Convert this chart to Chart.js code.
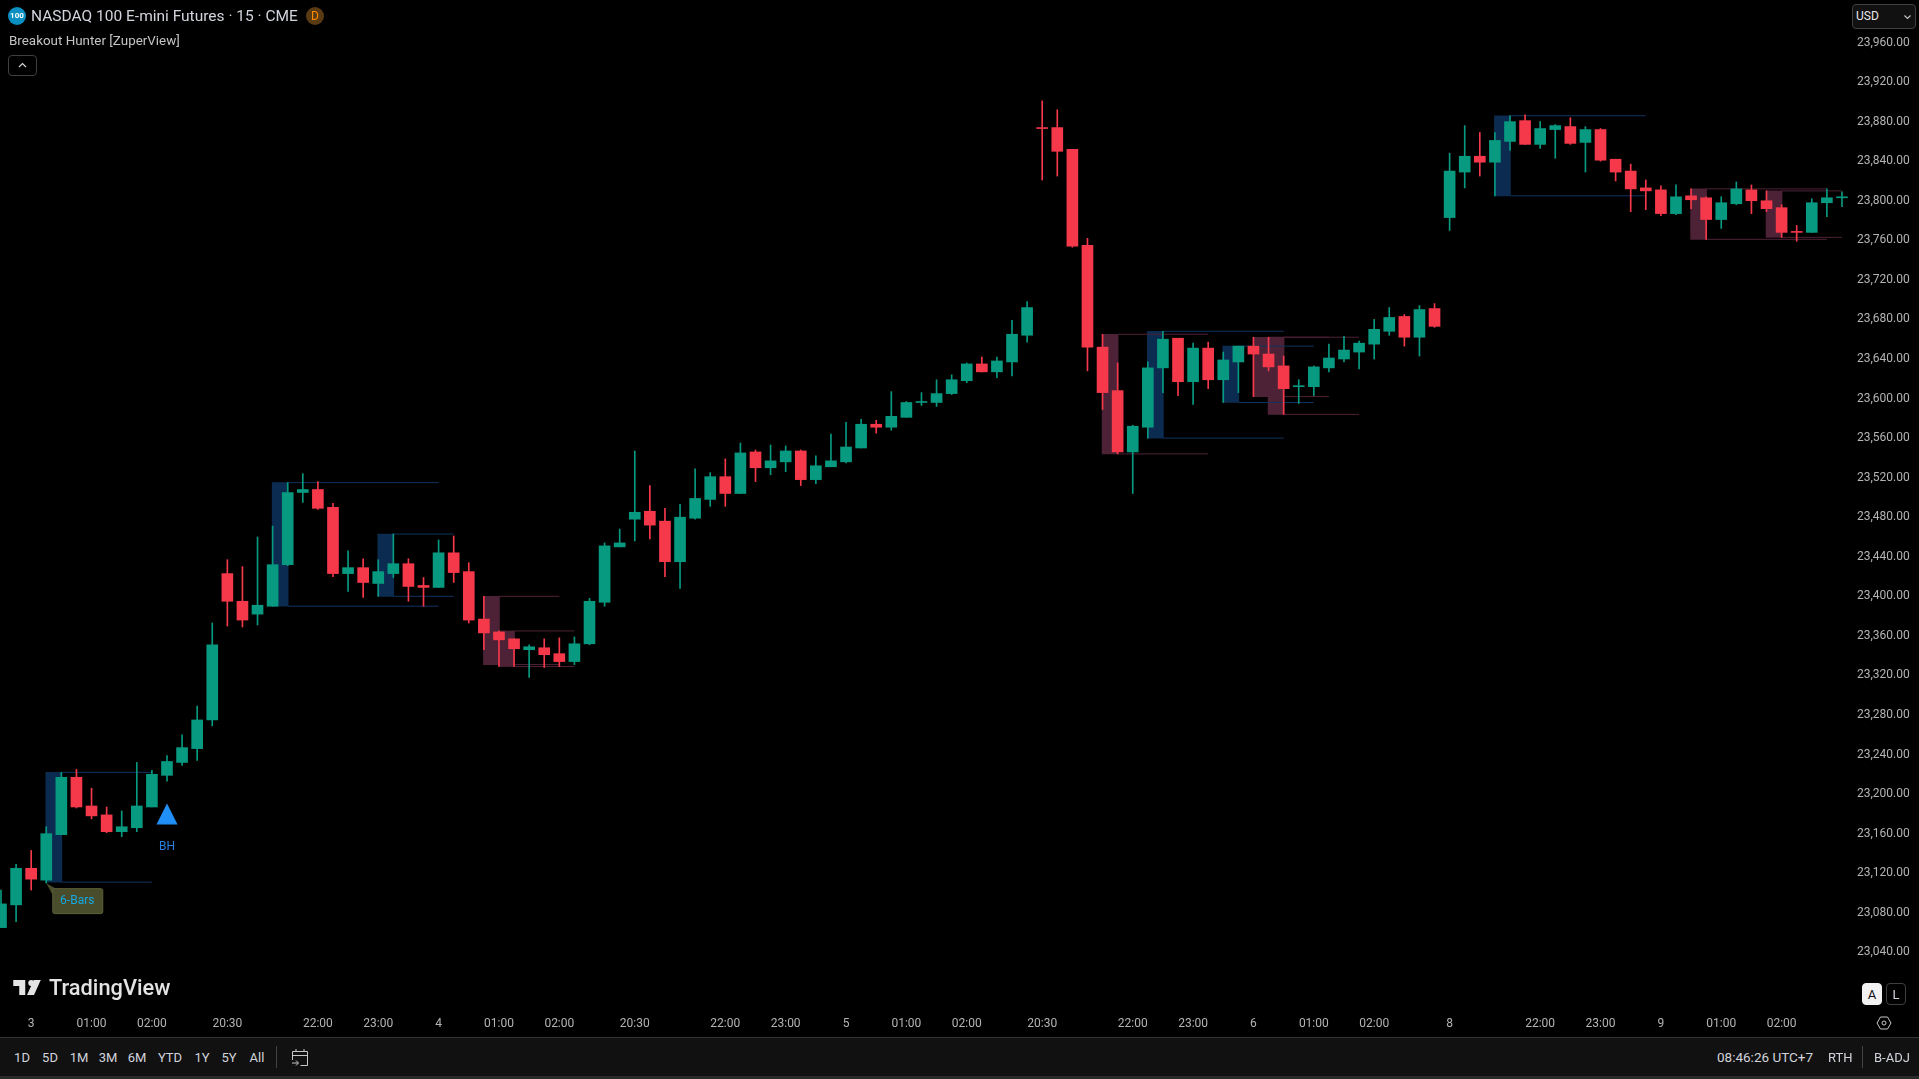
<!DOCTYPE html>
<html>
<head>
<meta charset="utf-8">
<title>NASDAQ 100 E-mini Futures</title>
<script src="https://cdn.jsdelivr.net/npm/chart.js@4"></script>
<style>
html,body{margin:0;padding:0;background:#000;overflow:hidden;width:1919px;height:1079px;font-family:Roboto,"Liberation Sans",sans-serif;}
#chart{position:absolute;left:0;top:0;}
.t{position:absolute;white-space:nowrap;line-height:1;}
.c{transform:translateX(-50%);}
.btn{position:absolute;box-sizing:border-box;border:1px solid #3f3f3f;border-radius:4px;}
#bar{position:absolute;left:0;top:1037px;width:1919px;height:39px;background:#111;border-top:1px solid #333;box-sizing:border-box;}
#strip{position:absolute;left:0;top:1076px;width:1919px;height:3px;background:#2a2a2a;}
.tool{color:#d1d4dc;font-size:13px;}
.sep{position:absolute;width:1px;background:#434343;}
</style>
</head>
<body>
<canvas id="chart" width="1919" height="1037"></canvas>

<!-- header -->
<div class="t c" style="left:17px;top:7px;width:18px;height:18px;border-radius:50%;background:#0b8fc2;color:#fff;font-size:8px;font-weight:700;line-height:18px;text-align:center;">100</div>
<div class="t" style="left:31px;top:9px;color:#d1d4dc;font-size:15.500px;">NASDAQ 100 E-mini Futures · 15 · CME</div>
<div class="t c" style="left:315px;top:7px;width:18px;height:18px;border-radius:50%;background:#5a3a12;color:#ff8c00;font-size:12px;line-height:18px;text-align:center;">D</div>
<div class="t" style="left:9px;top:34px;color:#c4c4c4;font-size:13.400px;">Breakout Hunter [ZuperView]</div>
<div class="btn" style="left:8px;top:55px;width:29px;height:21px;">
  <svg width="27" height="19" style="position:absolute;left:0;top:0"><path d="M10 11l3.5-3.5L17 11" fill="none" stroke="#d8d8d8" stroke-width="1.2"/></svg>
</div>

<!-- currency box -->
<div class="btn" style="left:1852px;top:4px;width:64px;height:25px;background:#111;border-radius:4px;"></div>
<div class="t" style="left:1856px;top:10px;color:#e8e8e8;font-size:12px;">USD</div>
<svg width="10" height="8" style="position:absolute;left:1903px;top:14px"><path d="M1.5 1.5L4.5 4.5L7.5 1.5" fill="none" stroke="#c8c8c8" stroke-width="1.1"/></svg>

<!-- watermark -->
<svg viewBox="2 6 27.5 15" width="30" height="15" style="position:absolute;left:12px;top:980px">
  <path d="M14 6H2v6h6v9h6V6z" fill="#e4e4e4"/><circle cx="20" cy="9" r="3" fill="#e4e4e4"/><path d="M29.5 6h-7l-6.75 15h7L29.5 6z" fill="#e4e4e4"/>
</svg>
<div class="t" style="left:49px;top:977px;color:#e4e4e4;font-size:21.800px;font-weight:500;">TradingView</div>

<!-- A / L buttons and settings -->
<div class="btn" style="left:1862px;top:983px;width:20px;height:22px;background:#f2f2f2;border-color:#f2f2f2;"></div>
<div class="t c" style="left:1872px;top:988px;color:#111;font-size:13px;">A</div>
<div class="btn" style="left:1886px;top:983px;width:20px;height:22px;"></div>
<div class="t c" style="left:1896px;top:988px;color:#d1d4dc;font-size:13px;">L</div>
<svg width="16" height="14" style="position:absolute;left:1876px;top:1016px"><path d="M4.5 1h7L15 7l-3.5 6h-7L1 7z" fill="none" stroke="#c8c8c8" stroke-width="1"/><circle cx="8" cy="7" r="2" fill="none" stroke="#c8c8c8" stroke-width="1"/></svg>

<!-- bottom toolbar -->
<div id="bar"></div>
<div id="strip"></div>
<div class="sep" style="left:276px;top:1046px;height:22px;"></div>
<svg width="18" height="20" style="position:absolute;left:291px;top:1047px"><g fill="none" stroke="#c8c8c8" stroke-width="1"><path d="M1.5 13V4.5h15v14h-7M1.5 8.5h15M5 2v3M13 2v3"/><path d="M1 16h6M5 13.5L7.5 16L5 18.500"/></g></svg>
<div class="t" style="left:1717px;top:1051px;color:#d1d4dc;font-size:13.500px;">08:46:26 UTC+7</div>
<div class="t" style="left:1828px;top:1051px;color:#d1d4dc;font-size:13px;">RTH</div>
<div class="sep" style="left:1862px;top:1046px;height:22px;"></div>
<div class="t" style="left:1874px;top:1051px;color:#d1d4dc;font-size:13px;">B-ADJ</div>

<script>
// NQ 15m candles
const opens = [23065,23088,23125,23113,23159,23217,23188,23179,23162,23166,
  23187,23219,23232,23246,23275,23423,23395,23382,23390,23432,
  23505,23508,23490,23423,23429,23413,23423,23433,23411,23409,
  23444,23425,23377,23364,23357,23346,23348,23342,23334,23352,
  23394,23450,23478,23486,23476,23435,23479,23498,23521,23504,
  23546,23530,23536,23547,23518,23531,23536,23550,23574,23571,
  23581,23596,23596,23605,23618,23635,23627,23637,23664,23874,
  23874,23852,23755,23652,23608,23546,23571,23631,23661,23617,
  23651,23619,23637,23653,23645,23633,23612,23612,23631,23640,
  23647,23655,23668,23683,23662,23691,23783,23829,23845,23839,
  23860,23881,23857,23872,23875,23859,23872,23842,23830,23813,
  23811,23787,23805,23803,23781,23797,23811,23800,23793,23769,
  23768,23798,23803];
const highs = [23103,23129,23143,23167,23222,23225,23206,23187,23183,23232,
  23224,23239,23260,23289,23373,23437,23430,23460,23471,23515,
  23524,23516,23494,23446,23438,23437,23463,23438,23419,23457,
  23461,23434,23400,23365,23357,23351,23357,23358,23359,23398,
  23454,23468,23547,23512,23489,23493,23529,23525,23539,23555,
  23548,23553,23552,23548,23542,23564,23576,23579,23578,23607,
  23597,23606,23619,23624,23636,23642,23642,23679,23698,23901,
  23892,23852,23762,23665,23636,23573,23637,23668,23661,23656,
  23657,23647,23653,23662,23662,23643,23619,23633,23655,23663,
  23658,23680,23692,23685,23694,23696,23848,23876,23869,23869,
  23886,23887,23880,23877,23884,23875,23873,23842,23837,23821,
  23815,23816,23812,23804,23804,23819,23816,23810,23796,23775,
  23802,23812,23809];
const lows = [23065,23071,23103,23110,23159,23186,23175,23161,23157,23162,
  23187,23213,23229,23234,23269,23370,23369,23371,23390,23431,
  23495,23488,23420,23405,23399,23400,23419,23395,23390,23409,
  23414,23373,23346,23329,23329,23318,23328,23329,23331,23351,
  23390,23450,23456,23458,23420,23408,23478,23491,23491,23504,
  23516,23523,23526,23512,23514,23531,23535,23550,23565,23568,
  23581,23593,23592,23604,23616,23627,23621,23623,23657,23821,
  23825,23753,23628,23589,23544,23504,23560,23606,23603,23594,
  23610,23596,23606,23602,23628,23584,23595,23603,23627,23637,
  23630,23640,23664,23653,23643,23672,23770,23813,23825,23805,
  23851,23857,23853,23843,23857,23829,23840,23820,23789,23791,
  23785,23786,23792,23761,23772,23796,23787,23789,23763,23759,
  23768,23784,23794];
const closes = [23089,23125,23114,23160,23217,23187,23178,23162,23167,23188,
  23220,23233,23247,23275,23351,23395,23376,23391,23432,23505,
  23508,23489,23423,23429,23414,23425,23433,23410,23409,23444,
  23424,23376,23363,23356,23347,23349,23341,23334,23352,23395,
  23451,23454,23485,23472,23435,23480,23499,23521,23504,23545,
  23530,23537,23547,23518,23532,23537,23551,23574,23571,23582,
  23596,23597,23605,23619,23635,23627,23638,23665,23692,23873,
  23850,23754,23652,23606,23546,23572,23631,23660,23617,23651,
  23619,23639,23653,23645,23632,23610,23613,23632,23641,23649,
  23656,23670,23682,23662,23690,23673,23830,23845,23839,23861,
  23880,23857,23873,23876,23858,23872,23841,23829,23812,23810,
  23787,23804,23801,23781,23798,23812,23800,23792,23768,23768,
  23798,23803,23804];

// Breakout Hunter zones
const zoneFrom = [3,18,25,32,33,73,76,81,83,84,99,112,117];
const zoneLineTo = [10,29,30,37,38,80,85,87,88,90,109,121,122];
const zoneHigh = [23222,23515,23463,23400,23365,23665,23668,23653,23662,23662,23886,23812,23810];
const zoneLow = [23111,23390,23400,23331,23329,23544,23560,23596,23602,23584,23805,23761,23763];
const zoneKind = ['up','up','up','down','down','down','up','up','down','down','up','down','down'];

// signal marker
const signalIndex = [11];
const signalPrice = [23180];

// axes
const xTickIndex = [2,6,10,15,21,25,29,33,37,42,48,52,56,60,64,69,75,79,83,87,91,96,102,106,110,114,118];
const xTickText = ['3','01:00','02:00','20:30','22:00','23:00','4','01:00','02:00','20:30','22:00','23:00','5','01:00','02:00','20:30','22:00','23:00','6','01:00','02:00','8','22:00','23:00','9','01:00','02:00'];
const yTicks = [23960,23920,23880,23840,23800,23760,23720,23680,23640,23600,23560,23520,23480,23440,23400,23360,23320,23280,23240,23200,23160,23120,23080,23040];

const UP = '#089981', DOWN = '#f5384a';
const ZONE_UP = '#0b2c50', ZONE_DOWN = '#4e2236';
const candleColor = closes.map((c,i)=> c >= opens[i] ? UP : DOWN);

function zoneLines(kind){
  const pts = [];
  zoneFrom.forEach((f,i)=>{
    if(zoneKind[i] !== kind) return;
    [zoneHigh[i], zoneLow[i]].forEach(p=>{
      pts.push({x:f+1,y:p},{x:zoneLineTo[i],y:p},{x:zoneLineTo[i],y:null});
    });
  });
  return pts;
}

// triangle used as the signal point image
const tri = document.createElement('canvas');
tri.width = 22; tri.height = 22;
(function(){
  const c = tri.getContext('2d');
  c.fillStyle = '#2090f8';
  c.beginPath(); c.moveTo(11,0.5); c.lineTo(21.5,21.5); c.lineTo(0.5,21.5); c.closePath(); c.fill();
})();

// "BH" and "6-Bars" texts hang off the first zone and the signal bar
const labelsPlugin = {
  id:'labels',
  afterDatasetsDraw(chart){
    const {ctx, scales:{x,y}} = chart;
    ctx.save();
    ctx.font = '12px Roboto';
    ctx.textAlign = 'center'; ctx.textBaseline = 'middle';
    ctx.fillStyle = '#2a7fdc';
    ctx.fillText('BH', x.getPixelForValue(signalIndex[0]), y.getPixelForValue(signalPrice[0])+33);

    const ax = x.getPixelForValue(zoneFrom[0]), ay = y.getPixelForValue(zoneLow[0]);
    ctx.fillStyle = '#494d2b'; ctx.strokeStyle = '#5c6036'; ctx.lineWidth = 1;
    ctx.beginPath();
    ctx.moveTo(ax, ay+1);
    ctx.lineTo(ax+9, ay+6);
    ctx.lineTo(ax+6, ay+12);
    ctx.closePath(); ctx.fill();
    ctx.beginPath();
    ctx.roundRect(ax+6.5, ay+6.5, 50, 25, 2);
    ctx.fill(); ctx.stroke();
    ctx.fillStyle = '#12a8e4';
    ctx.fillText('6-Bars', ax+31, ay+19);
    ctx.restore();
  }
};

new Chart(document.getElementById('chart').getContext('2d'),{
  type:'bar',
  plugins:[labelsPlugin],
  data:{datasets:[
    {label:'zones',order:6,grouped:false,barThickness:16,
      data:zoneFrom.map((f,i)=>({x:f+0.5,y:[zoneLow[i],zoneHigh[i]]})),
      backgroundColor:zoneKind.map(k=>k==='up'?ZONE_UP:ZONE_DOWN)},
    {type:'line',label:'up lines',order:5,data:zoneLines('up'),borderColor:'#10345e',borderWidth:1,pointRadius:0,spanGaps:false},
    {type:'line',label:'down lines',order:5,data:zoneLines('down'),borderColor:'#4e2236',borderWidth:1,pointRadius:0,spanGaps:false},
    {label:'wicks',order:3,grouped:false,barThickness:1,
      data:highs.map((h,i)=>({x:i,y:[lows[i],h]})),
      backgroundColor:candleColor},
    {label:'bodies',order:2,grouped:false,barThickness:11,minBarLength:1,
      data:opens.map((o,i)=>({x:i,y:[o,closes[i]]})),
      backgroundColor:candleColor},
    {type:'line',label:'signal',order:1,showLine:false,pointStyle:tri,pointRadius:11,
      data:signalIndex.map((s,i)=>({x:s,y:signalPrice[i]}))}
  ]},
  options:{
    responsive:false,animation:false,devicePixelRatio:1,
    layout:{padding:0,autoPadding:false},
    plugins:{legend:{display:false},tooltip:{enabled:false}},
    scales:{
      x:{type:'linear',offset:false,bounds:'data',min:-0.0663,max:122.4,
        grid:{display:false,drawTicks:false},border:{display:false},
        afterBuildTicks(a){ a.ticks = xTickIndex.map(v=>({value:v})); },
        afterFit(a){ a.height = 27; a.paddingLeft = 0; a.paddingRight = 0; },
        ticks:{autoSkip:false,maxRotation:0,padding:7,color:'#b4b4b4',font:{family:'Roboto',size:12},
          callback(v){ return xTickText[xTickIndex.indexOf(v)]; }}
      },
      y:{position:'right',bounds:'data',min:22981.7,max:24003,
        grid:{display:false,drawTicks:false},border:{display:false},
        afterBuildTicks(a){ a.ticks = yTicks.map(v=>({value:v})); },
        afterFit(a){ a.width = 71; a.paddingTop = 0; a.paddingBottom = 0; },
        ticks:{autoSkip:false,padding:9,color:'#b4b4b4',font:{family:'Roboto',size:12},
          callback(v){ return v.toLocaleString('en-US',{minimumFractionDigits:2}); }}
      }
    }
  }
});

// range buttons
const rangeLabels = ['1D','5D','1M','3M','6M','YTD','1Y','5Y','All'];
const rangeCentres = [22,50,79,108,137,170,202,229,257];
rangeLabels.forEach((r,i)=>{
  const d = document.createElement('div');
  d.className = 't c tool';
  d.style.left = rangeCentres[i]+'px';
  d.style.top = '1051px';
  d.textContent = r;
  document.body.appendChild(d);
});
</script>
</body>
</html>
